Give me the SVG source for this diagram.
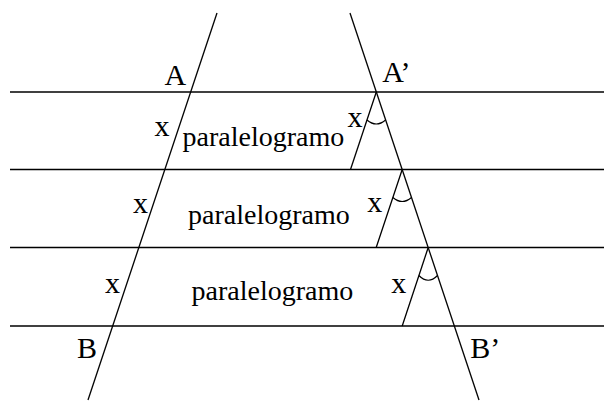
<svg xmlns="http://www.w3.org/2000/svg" width="604" height="401" viewBox="0 0 604 401">
<style>
.ln{stroke:#000;stroke-width:1.3;fill:none}
.arc{stroke:#000;stroke-width:1.2;fill:none}
.lbl{font-size:30px;fill:#000}
.par{font-size:28px;fill:#000}
</style>
<rect width="604" height="401" fill="#fff"/>
<g id="parallels">
<line class="ln" x1="10" y1="92" x2="604" y2="92"/>
<line class="ln" x1="10" y1="169.5" x2="604" y2="169.5"/>
<line class="ln" x1="10" y1="247.5" x2="604" y2="247.5"/>
<line class="ln" x1="10" y1="326" x2="604" y2="326"/>
</g>
<g id="transversals">
<line class="ln" x1="217" y1="13" x2="88" y2="400"/>
<line class="ln" x1="350" y1="13" x2="479" y2="400"/>
</g>
<g id="segments">
<line class="ln" x1="376.3" y1="92" x2="350.5" y2="169.5"/>
<line class="ln" x1="402.2" y1="169.5" x2="376.2" y2="247.5"/>
<line class="ln" x1="428.2" y1="247.5" x2="402.2" y2="326"/>
</g>
<g id="angles">
<path class="arc" d="M367 120 Q376.3 128 385.6 120"/>
<path class="arc" d="M392.9 197.5 Q402.2 205.5 411.5 197.5"/>
<path class="arc" d="M418.9 275.5 Q428.2 285 437.5 275.5"/>
</g>
<g id="labels" font-family="Liberation Serif, Times New Roman, serif">
<text class="lbl" x="164.5" y="85">A</text>
<text class="lbl" x="382.2" y="82">A’</text>
<text class="lbl" x="77" y="358">B</text>
<text class="lbl" x="470.2" y="358">B’</text>
<text class="lbl" x="154.5" y="136">x</text>
<text class="lbl" x="133" y="213">x</text>
<text class="lbl" x="105" y="293">x</text>
<text class="lbl" x="347.5" y="127">x</text>
<text class="lbl" x="367.3" y="212">x</text>
<text class="lbl" x="391.3" y="293">x</text>
<text class="par" x="182.5" y="146">paralelogramo</text>
<text class="par" x="188" y="224">paralelogramo</text>
<text class="par" x="191.5" y="300">paralelogramo</text>
</g>
</svg>
